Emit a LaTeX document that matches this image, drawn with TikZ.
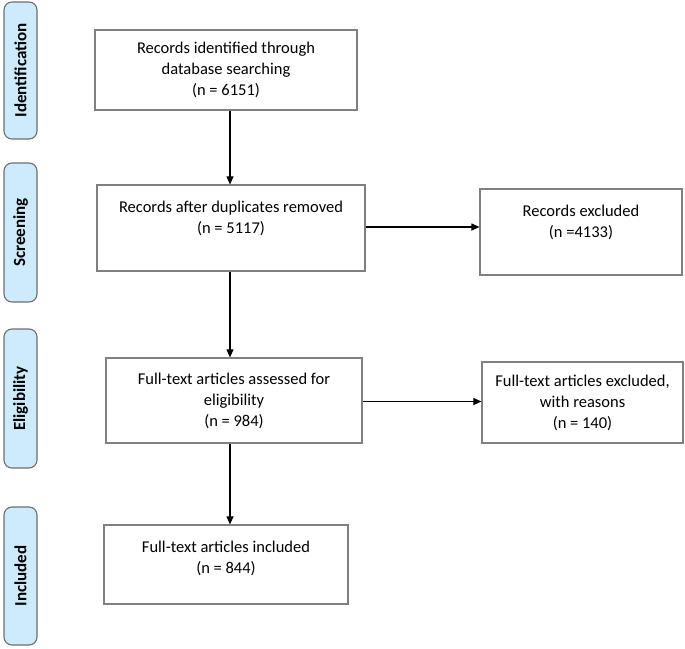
\documentclass[tikz,border=0pt]{standalone}
\usepackage{fontspec}
\setmainfont{Carlito}
\usetikzlibrary{arrows.meta}
\definecolor{sidefill}{HTML}{CDEBFC}
\definecolor{sideline}{HTML}{6E6E6E}
\definecolor{boxline}{HTML}{808080}
\newcommand{\topbox}[3]{\parbox[c][#2][t]{#1}{\centering\vspace*{16pt}#3\par}}
\begin{document}
\begin{tikzpicture}[x=1pt,y=-1pt,
  every node/.style={font=\fontsize{16.5}{21}\selectfont},
  mainbox/.style={draw=boxline,line width=1.2pt,inner sep=0pt,align=center},
  sidebox/.style={draw=sideline,fill=sidefill,line width=1.1pt,rounded corners=8pt,
    rotate=90,inner sep=0pt,minimum height=33pt,font=\fontsize{17}{20}\selectfont\bfseries},
  arr/.style={line width=1.1pt,-{Triangle[length=8pt,width=7pt]}}]
\useasboundingbox (0,0) rectangle (685,648);

% side labels
\node[sidebox,minimum width=137pt] (sid) at (20.5,70.5) {Identification};
\node[sidebox,minimum width=139pt] (sscr) at (20.5,232.5) {Screening};
\node[sidebox,minimum width=139pt] (seli) at (20.5,398.5) {Eligibility};
\node[sidebox,minimum width=138pt] (sinc) at (20.5,576) {Included};

% main boxes
\node[mainbox,minimum width=262pt,minimum height=80pt] (b1) at (226,70)
  {Records identified through\\database searching\\(n = 6151)};
\node[mainbox] (b2) at (231,228)
  {\topbox{268pt}{86pt}{Records after duplicates removed\\(n = 5117)}};
\node[mainbox,minimum width=256pt,minimum height=85pt] (b3) at (234,400.5)
  {Full-text articles assessed for\\eligibility\\(n = 984)};
\node[mainbox] (b4) at (226,564.5)
  {\topbox{244pt}{79pt}{Full-text articles included\\(n = 844)}};
\node[mainbox] (e1) at (581,232)
  {\topbox{202pt}{86pt}{Records excluded\\(n =4133)}};
\node[mainbox,minimum width=201pt,minimum height=81pt] (e2) at (582.5,402.5)
  {Full-text articles excluded,\\with reasons\\(n = 140)};

% connectors
\coordinate (ax) at (230,0);
\draw[arr] (b1.south -| ax) -- (b2.north -| ax);
\draw[arr] (b2.south -| ax) -- (b3.north -| ax);
\draw[arr] (b3.south -| ax) -- (b4.north -| ax);
\draw[arr] ([yshift=1pt]b2.east) -- ([yshift=1pt]b2.east -| e1.west);
\draw[arr] ([yshift=-1pt]b3.east) -- ([yshift=-1pt]b3.east -| e2.west);
\end{tikzpicture}
\end{document}
